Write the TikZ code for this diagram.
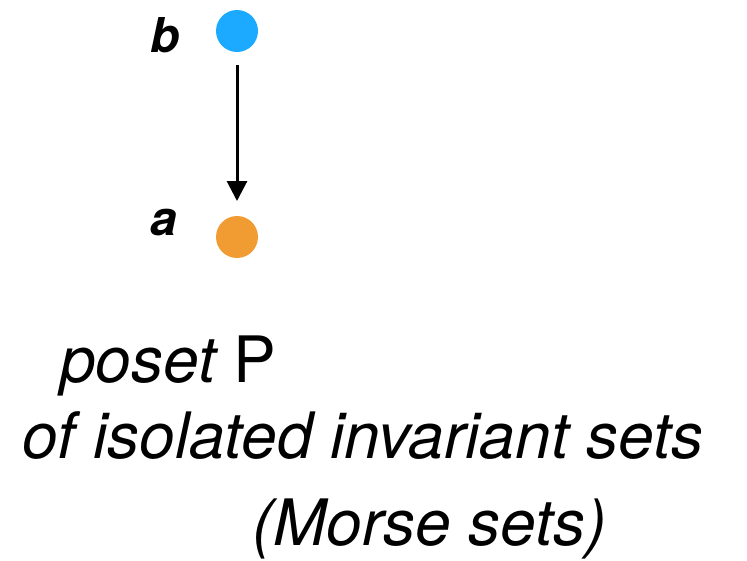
\documentclass[tikz,border=0pt]{standalone}
\usepackage{fontspec}
\setmainfont{TeX Gyre Heros}
\usetikzlibrary{arrows.meta}
\definecolor{bblue}{RGB}{27,170,255}
\definecolor{aorange}{RGB}{241,156,51}
\tikzset{
  dot/.style={circle,inner sep=0pt,minimum size=42pt},
  lbl/.style={inner sep=0pt,anchor=base west,font=\fontsize{48}{50}\selectfont\bfseries\itshape},
  caption/.style={inner sep=0pt,anchor=base west,font=\fontsize{64}{66}\selectfont},
}
\begin{document}
\begin{tikzpicture}[x=1pt,y=-1pt]
\useasboundingbox (0,0) rectangle (747,560);
\node[dot,fill=bblue] (b) at (237,31) {};
\node[dot,fill=aorange] (a) at (237,237) {};
\node[lbl] (lb) at (150,52) {b};
\node[lbl] (la) at (150,235) {a};
\coordinate (s) at (237,65);
\coordinate (t) at (237,201);
\draw[line width=3pt,-{Triangle[width=20pt,length=20pt]}] (s) -- (t);
\node[caption] (c1) at (60,382) {\itshape poset \upshape P};
\node[caption] (c2) at (22,458) {\itshape of isolated invariant sets};
\node[caption] (c3) at (252,545) {\itshape (Morse sets)};
\end{tikzpicture}
\end{document}
